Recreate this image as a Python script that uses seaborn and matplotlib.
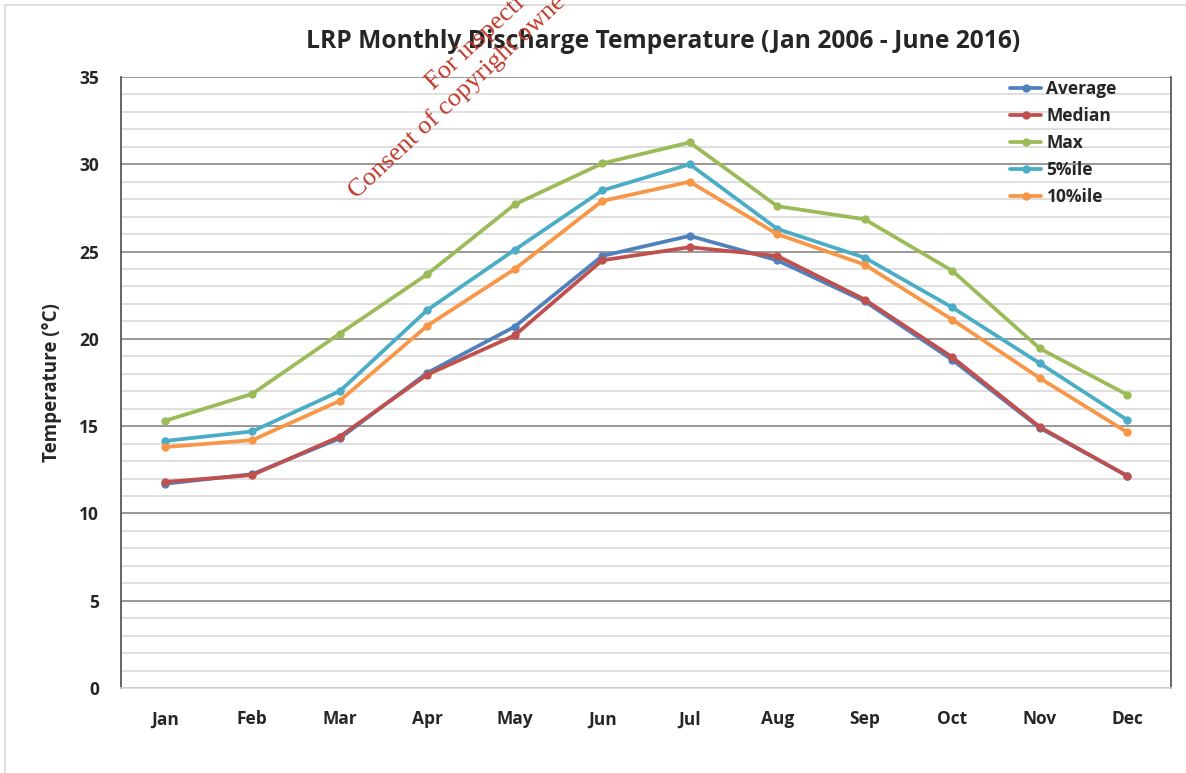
import numpy as np
import pandas as pd
import matplotlib
matplotlib.use("Agg")
import matplotlib.pyplot as plt
import seaborn as sns
from matplotlib.patches import Rectangle

months = ["Jan", "Feb", "Mar", "Apr", "May", "Jun", "Jul", "Aug", "Sep", "Oct", "Nov", "Dec"]
average = [11.7, 12.25, 14.3, 18.05, 20.7, 24.75, 25.9, 24.5, 22.15, 18.8, 14.9, 12.15]
median = [11.8, 12.2, 14.4, 17.95, 20.2, 24.5, 25.25, 24.75, 22.25, 18.95, 14.95, 12.15]
maxv = [15.3, 16.85, 20.3, 23.7, 27.7, 30.05, 31.25, 27.6, 26.85, 23.9, 19.45, 16.8]
p5 = [14.15, 14.7, 17.0, 21.65, 25.1, 28.5, 30.0, 26.3, 24.65, 21.8, 18.6, 15.35]
p10 = [13.8, 14.2, 16.45, 20.75, 24.0, 27.9, 29.0, 26.0, 24.25, 21.1, 17.75, 14.65]

series_names = ["Average", "Median", "Max", "5%ile", "10%ile"]
series_vals = [average, median, maxv, p5, p10]
colors = ["#4f81bd", "#c0504d", "#9bbb59", "#4bacc6", "#f79646"]

sns.set_theme(style="white")
plt.rcParams['font.family'] = ['Open Sans', 'DejaVu Sans']

fig = plt.figure(figsize=(11.86, 7.73), dpi=100)
fig.patches.append(Rectangle((5/1186, -0.01), 1.0, 1 - 5/773 + 0.01, transform=fig.transFigure,
                             fill=False, edgecolor="#d9d9d9", linewidth=1.2))
ax = fig.add_axes([121/1186, 1 - 688/773, 1050/1186, 611/773])

x = np.arange(len(months))
for name, vals, c in zip(series_names, series_vals, colors):
    df = pd.DataFrame({"x": x, "y": vals})
    sns.lineplot(data=df, x="x", y="y", ax=ax, color=c, linewidth=2.7,
                 marker="o", markersize=6, markeredgewidth=0, label=name)

ax.set_xlim(-0.5, 11.5)
ax.set_ylim(0, 35)
ax.set_yticks(np.arange(0, 36, 5))
ax.set_yticks(np.arange(0, 36, 1), minor=True)
ax.grid(which="minor", axis="y", color="#d9d9d9", linewidth=1.2)
ax.grid(which="major", axis="y", color="#868686", linewidth=1.2)
ax.set_axisbelow(True)
ax.set_xticks(x)
ax.set_xticklabels(months)
for lab in ax.get_xticklabels() + ax.get_yticklabels():
    lab.set_fontweight("bold")
    lab.set_fontsize(12.5)
ax.tick_params(axis="both", which="both", length=0)
ax.tick_params(axis="x", pad=16)
ax.tick_params(axis="y", pad=16)
ax.set_xlabel("")
ax.set_ylabel("Temperature (°C)", fontsize=13.5, fontweight="bold", labelpad=12)

for s in ["left", "right"]:
    ax.spines[s].set_color("#595959")
    ax.spines[s].set_linewidth(1.3)
ax.spines["top"].set_visible(False)
ax.spines["bottom"].set_color("#d9d9d9")
ax.spines["bottom"].set_linewidth(1.2)

leg = ax.legend(loc="upper right", bbox_to_anchor=(0.96, 1.015), frameon=False,
                prop={"weight": "bold", "size": 12.5}, handlelength=1.8,
                handletextpad=0.3, labelspacing=0.52, borderaxespad=0.3)

fig.text(663/1186, 1 - 42/773, "LRP Monthly Discharge Temperature (Jan 2006 - June 2016)",
         ha="center", va="center", fontsize=17.7, fontweight="bold")

wm_color = "#c0392b"
fig.text(357/1186, 1 - 199/773, "Consent of copyright owne",
         rotation=43, rotation_mode="anchor", ha="left", va="baseline",
         fontsize=19, color=wm_color, family="Liberation Serif")
fig.text(434/1186, 1 - 90/773, "For inspecti",
         rotation=43, rotation_mode="anchor", ha="left", va="baseline",
         fontsize=19, color=wm_color, family="Liberation Serif")

fig.savefig("out.png", dpi=100)
